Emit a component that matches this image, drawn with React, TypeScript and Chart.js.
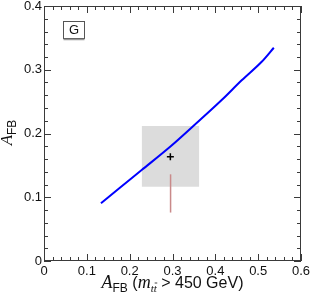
import React, { useEffect, useRef } from "react";
import { Chart, registerables } from "chart.js";
Chart.register(...registerables);

const X_TICKS = [0, 0.1, 0.2, 0.3, 0.4, 0.5, 0.6];
const Y_TICKS = [0, 0.1, 0.2, 0.3, 0.4];
const CURVE_X = [0.133, 0.18, 0.228, 0.2965, 0.3486, 0.4148, 0.4615, 0.5082, 0.5365];
const CURVE_Y = [0.0905, 0.1165, 0.1427, 0.1804, 0.2118, 0.2525, 0.2835, 0.3125, 0.3345];
const MEAS_X = [0.295];
const MEAS_Y = [0.1636];
const BAND_X = [0.228, 0.3626];
const BAND_Y = [0.1165, 0.2118];
const SM_X = [0.2955, 0.2955];
const SM_Y = [0.076, 0.136];
const PANEL_LABEL = "G";

const SERIF = '"Liberation Serif", "DejaVu Serif", serif';
const SANS = '"Liberation Sans", Arial, sans-serif';

type Piece = { t: string; font: string; dy: number; bar?: boolean };

function drawPieces(ctx: CanvasRenderingContext2D, pieces: Piece[], cx: number, baseY: number) {
  let total = 0;
  const widths = pieces.map((p) => {
    ctx.font = p.font;
    const w = ctx.measureText(p.t).width;
    total += w;
    return w;
  });
  let x = cx - total / 2;
  pieces.forEach((p, i) => {
    ctx.font = p.font;
    ctx.textBaseline = "alphabetic";
    ctx.textAlign = "left";
    ctx.fillText(p.t, x, baseY + p.dy);
    if (p.bar) {
      const w2 = ctx.measureText(p.t.slice(-1)).width;
      ctx.beginPath();
      ctx.lineWidth = 0.8;
      ctx.moveTo(x + widths[i] - w2 + 1, baseY + p.dy - 9);
      ctx.lineTo(x + widths[i] + 0.5, baseY + p.dy - 9);
      ctx.stroke();
    }
    x += widths[i];
  });
}

const decorPlugin = {
  id: "decor",
  afterDatasetsDraw(chart: any) {
    const { ctx, chartArea: a, scales } = chart;
    const xs = scales.x;
    const ys = scales.y;
    ctx.save();
    ctx.strokeStyle = "#3a3a3a";
    ctx.lineWidth = 1;
    ctx.beginPath();
    for (let i = 0; i <= 30; i++) {
      const v = i * 0.02;
      const len = i % 5 === 0 ? 7 : 4;
      const px = Math.round(xs.getPixelForValue(v)) + 0.5;
      ctx.moveTo(px, a.bottom);
      ctx.lineTo(px, a.bottom - len);
      ctx.moveTo(px, a.top);
      ctx.lineTo(px, a.top + len);
    }
    for (let i = 0; i <= 20; i++) {
      const v = i * 0.02;
      const len = i % 5 === 0 ? 7 : 4;
      const py = Math.round(ys.getPixelForValue(v)) + 0.5;
      ctx.moveTo(a.left, py);
      ctx.lineTo(a.left + len, py);
      ctx.moveTo(a.right, py);
      ctx.lineTo(a.right - len, py);
    }
    ctx.stroke();
    ctx.strokeRect(a.left + 0.5, a.top + 0.5, a.width - 1, a.height - 1);

    // panel label box
    const bx = a.left + 19.5;
    const by = a.top + 15.5;
    ctx.fillStyle = "#fff";
    ctx.fillRect(bx, by, 21, 17);
    ctx.strokeStyle = "#555";
    ctx.strokeRect(bx, by, 21, 17);
    ctx.strokeStyle = "#999";
    ctx.lineWidth = 1.5;
    ctx.beginPath();
    ctx.moveTo(bx, by + 18);
    ctx.lineTo(bx + 21, by + 18);
    ctx.stroke();
    ctx.fillStyle = "#111";
    ctx.font = `13px ${SANS}`;
    ctx.textAlign = "center";
    ctx.textBaseline = "middle";
    ctx.fillText(PANEL_LABEL, bx + 10.5, by + 9);

    // x title
    ctx.fillStyle = "#111";
    ctx.strokeStyle = "#111";
    drawPieces(
      ctx,
      [
        { t: "A", font: `italic 18px ${SERIF}`, dy: 0 },
        { t: "FB", font: `12px ${SANS}`, dy: 4 },
        { t: " (", font: `16px ${SANS}`, dy: 0 },
        { t: "m", font: `italic 18px ${SERIF}`, dy: 0 },
        { t: "tt", font: `italic 11px ${SERIF}`, dy: 4, bar: true },
        { t: " > 450 GeV)", font: `16px ${SANS}`, dy: 0 },
      ],
      (a.left + a.right) / 2,
      288
    );

    // y title
    ctx.save();
    ctx.translate(12, (a.top + a.bottom) / 2 - 1);
    ctx.rotate(-Math.PI / 2);
    drawPieces(
      ctx,
      [
        { t: "A", font: `italic 17px ${SERIF}`, dy: 0 },
        { t: "FB", font: `12px ${SANS}`, dy: 4 },
      ],
      0,
      0
    );
    ctx.restore();
    ctx.restore();
  },
};

export default function App() {
  const ref = useRef<HTMLCanvasElement | null>(null);
  useEffect(() => {
    if (!ref.current) return;
    const curve = CURVE_X.map((x, i) => ({ x, y: CURVE_Y[i] }));
    const meas = MEAS_X.map((x, i) => ({ x, y: MEAS_Y[i] }));
    const sm = SM_X.map((x, i) => ({ x, y: SM_Y[i] }));
    const band = BAND_X.map((x) => ({ x, y: BAND_Y[1] }));
    const chart = new Chart(ref.current, {
      type: "scatter",
      data: {
        datasets: [
          {
            data: curve,
            showLine: true,
            borderColor: "#0000ff",
            borderWidth: 2,
            pointRadius: 0,
            tension: 0.3,
            cubicInterpolationMode: "monotone",
          },
          {
            data: meas,
            pointStyle: "cross",
            pointRadius: 3.5,
            borderColor: "#000",
            borderWidth: 1.5,
            backgroundColor: "#000",
          },
          {
            data: sm,
            showLine: true,
            borderColor: "#c98a8a",
            borderWidth: 1.5,
            pointRadius: 0,
          },
          {
            data: band,
            showLine: true,
            borderWidth: 0,
            borderColor: "rgba(0,0,0,0)",
            pointRadius: 0,
            fill: { value: BAND_Y[0] },
            backgroundColor: "#dcdcdc",
          },
        ],
      },
      options: {
        animation: false,
        responsive: false,
        events: [],
        layout: { padding: { top: 6, right: 10, left: 0, bottom: 0 } },
        plugins: { legend: { display: false }, tooltip: { enabled: false } },
        scales: {
          x: {
            type: "linear",
            min: 0,
            max: 0.6,
            grid: { display: false, drawTicks: false },
            border: { display: false },
            afterBuildTicks: (s: any) => {
              s.ticks = X_TICKS.map((v) => ({ value: v }));
            },
            afterFit: (s: any) => {
              s.height = 39;
              s.paddingLeft = 0;
              s.paddingRight = 0;
            },
            ticks: {
              padding: 3,
              maxRotation: 0,
              autoSkip: false,
              color: "#111",
              font: { family: SANS, size: 13 },
              callback: (v: any) => (v === 0 ? "0" : String(+Number(v).toFixed(1))),
            },
          },
          y: {
            type: "linear",
            min: 0,
            max: 0.4,
            grid: { display: false, drawTicks: false },
            border: { display: false },
            afterBuildTicks: (s: any) => {
              s.ticks = Y_TICKS.map((v) => ({ value: v }));
            },
            afterFit: (s: any) => {
              s.width = 44;
              s.paddingTop = 0;
              s.paddingBottom = 0;
            },
            ticks: {
              padding: 2,
              autoSkip: false,
              color: "#111",
              font: { family: SANS, size: 13 },
              callback: (v: any) => (v === 0 ? "0" : String(+Number(v).toFixed(1))),
            },
          },
        },
      },
      plugins: [decorPlugin],
    });
    return () => chart.destroy();
  }, []);
  return (
    <div style={{ position: "absolute", left: 0, top: 0, width: 311, height: 300, background: "#fff" }}>
      <canvas ref={ref} width={311} height={300} />
    </div>
  );
}
